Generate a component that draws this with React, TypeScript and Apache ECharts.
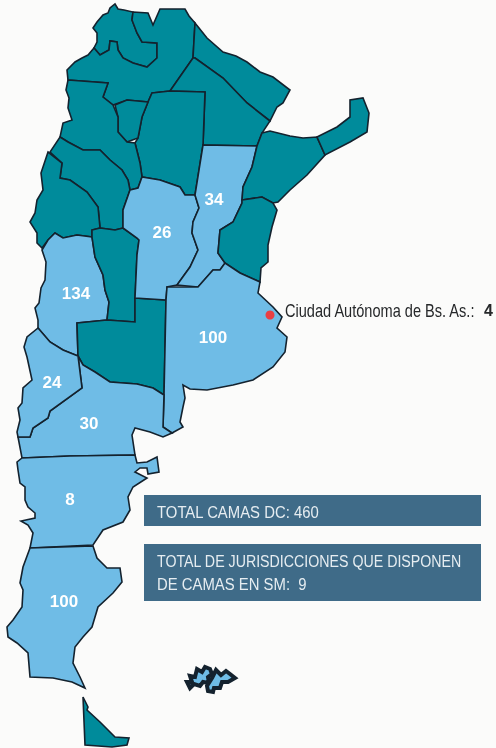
import React, { useEffect, useRef } from "react";
import * as echarts from "echarts";

type Pt = [number, number];

const jujuy: Pt[] = [[115,4],[118,9],[124,10],[133,12],[132,20],[137,33],[142,42],[157,43],[157,58],[147,67],[133,63],[123,58],[118,50],[117,42],[110,41],[109,50],[100,55],[94,48],[97,42],[97,33],[93,28],[97,22],[103,15],[108,13],[110,8]];
const salta: Pt[] = [[133,12],[148,13],[153,25],[160,9],[185,9],[189,16],[195,23],[193,58],[170,91],[152,93],[148,102],[127,100],[113,105],[103,97],[108,83],[68,80],[67,70],[75,62],[82,58],[88,55],[94,48],[100,55],[109,50],[110,41],[117,42],[118,50],[123,58],[133,63],[147,67],[157,58],[157,43],[142,42],[137,33],[132,20]];
const formosa: Pt[] = [[195,23],[207,38],[223,52],[236,56],[247,62],[260,72],[273,77],[290,90],[283,103],[277,107],[270,121],[247,103],[223,78],[195,58],[193,58]];
const chaco: Pt[] = [[195,58],[223,78],[247,103],[270,121],[262,133],[257,146],[203,145],[205,92],[170,91],[193,58]];
const santiago: Pt[] = [[152,93],[170,91],[205,92],[203,145],[195,195],[185,195],[180,187],[160,180],[142,177],[140,163],[135,143],[138,138],[142,117],[148,102]];
const tucuman: Pt[] = [[115,105],[127,100],[148,102],[142,117],[138,138],[127,142],[118,132],[118,117]];
const catamarca: Pt[] = [[68,80],[108,83],[103,97],[113,105],[118,117],[118,132],[127,142],[135,143],[140,163],[142,177],[138,188],[130,190],[128,180],[122,170],[110,160],[100,150],[83,150],[68,142],[60,137],[63,123],[72,120],[68,108],[69,98],[66,90]];
const laRioja: Pt[] = [[60,137],[68,142],[83,150],[100,150],[110,160],[122,170],[128,180],[130,190],[123,210],[123,228],[115,230],[100,228],[98,207],[87,192],[70,180],[60,178],[62,163],[50,152]];
const sanJuan: Pt[] = [[48,152],[62,163],[60,178],[70,180],[87,192],[98,207],[100,228],[92,230],[92,237],[77,235],[63,238],[55,233],[48,240],[42,248],[37,243],[37,233],[30,222],[35,213],[37,200],[43,190],[41,173],[43,167]];
const mendoza: Pt[] = [[42,250],[48,240],[55,233],[63,238],[77,235],[92,237],[95,257],[103,275],[105,290],[109,302],[107,320],[77,323],[78,356],[63,350],[50,342],[38,328],[38,320],[35,308],[39,303],[41,288],[45,280],[46,262]];
const sanLuis: Pt[] = [[92,230],[100,228],[115,230],[123,228],[137,238],[139,240],[137,255],[135,298],[135,322],[107,320],[109,302],[105,290],[103,275],[95,257],[92,237]];
const laPampa: Pt[] = [[77,323],[107,320],[135,322],[135,298],[166,300],[164,395],[153,388],[137,384],[110,382],[95,372],[83,365],[78,356]];
const cordoba: Pt[] = [[130,190],[138,188],[142,177],[160,180],[180,187],[185,195],[195,195],[199,208],[193,222],[192,233],[198,250],[190,267],[177,285],[167,287],[166,300],[135,298],[137,255],[139,240],[137,238],[123,228],[123,210]];
const santaFe: Pt[] = [[203,145],[257,146],[252,167],[243,187],[242,203],[233,222],[220,230],[218,253],[225,263],[220,270],[213,270],[198,287],[177,285],[190,267],[198,250],[192,233],[193,222],[199,208],[195,195]];
const corrientes: Pt[] = [[262,133],[270,131],[290,136],[303,138],[317,137],[325,155],[307,175],[290,190],[278,202],[273,203],[262,197],[242,200],[243,187],[252,167],[257,146]];
const misiones: Pt[] = [[317,137],[337,127],[350,117],[350,100],[363,98],[369,113],[367,132],[350,142],[325,155]];
const entreRios: Pt[] = [[242,200],[262,197],[273,203],[277,210],[272,227],[268,245],[268,262],[261,268],[260,282],[240,273],[225,263],[218,253],[220,230],[233,222],[242,203]];
const buenosAires: Pt[] = [[167,287],[198,287],[213,270],[220,270],[225,263],[240,273],[260,282],[258,293],[273,307],[282,317],[277,328],[287,337],[285,352],[273,367],[253,380],[233,385],[207,390],[190,389],[183,385],[185,398],[183,407],[180,422],[183,427],[172,433],[163,427],[164,395],[166,300]];
const rioNegro: Pt[] = [[78,356],[83,365],[95,372],[110,382],[137,384],[153,388],[164,395],[163,427],[172,433],[163,437],[150,432],[135,428],[132,435],[135,455],[70,456],[22,458],[18,437],[30,437],[33,428],[48,418],[50,411],[82,388]];
const neuquen: Pt[] = [[38,328],[50,342],[63,350],[78,356],[82,388],[50,411],[48,418],[33,428],[30,437],[18,437],[17,432],[20,420],[18,408],[22,403],[23,388],[32,380],[27,357],[24,347],[27,337]];
const chubut: Pt[] = [[17,462],[22,458],[70,456],[135,455],[137,463],[147,462],[157,457],[159,472],[148,474],[147,468],[140,468],[135,472],[147,478],[133,487],[128,497],[130,510],[123,522],[103,530],[93,545],[30,548],[33,533],[28,525],[21,521],[35,518],[35,513],[28,507],[25,500],[25,487],[20,483],[18,470]];
const santaCruz: Pt[] = [[30,548],[93,546],[97,558],[107,568],[120,568],[122,582],[113,593],[98,607],[92,627],[83,637],[75,647],[73,663],[80,677],[85,688],[72,682],[53,678],[30,677],[28,653],[17,643],[8,637],[7,627],[13,620],[22,607],[23,590],[20,583],[23,567]];
const tierraDelFuego: Pt[] = [[83,697],[88,707],[87,710],[100,722],[115,737],[129,738],[127,745],[112,747],[85,745]];
const malvinasOeste: Pt[] = [[187,682],[192,682],[190,676],[195,677],[197,669],[202,672],[205,667],[210,669],[212,674],[208,677],[209,683],[203,682],[200,686],[194,684],[190,688]];
const malvinasEste: Pt[] = [[212,678],[216,670],[221,675],[226,671],[230,674],[235,678],[228,682],[222,682],[220,688],[214,688],[213,692],[208,691],[207,686]];

const rings: [string, Pt[]][] = [
  ["Jujuy", jujuy], ["Salta", salta], ["Formosa", formosa], ["Chaco", chaco],
  ["Santiago del Estero", santiago], ["Tucumán", tucuman], ["Catamarca", catamarca],
  ["La Rioja", laRioja], ["San Juan", sanJuan], ["Mendoza", mendoza], ["San Luis", sanLuis],
  ["La Pampa", laPampa], ["Córdoba", cordoba], ["Santa Fe", santaFe], ["Corrientes", corrientes],
  ["Misiones", misiones], ["Entre Ríos", entreRios], ["Buenos Aires", buenosAires],
  ["Río Negro", rioNegro], ["Neuquén", neuquen], ["Chubut", chubut], ["Santa Cruz", santaCruz],
  ["Tierra del Fuego", tierraDelFuego], ["Malvinas Oeste", malvinasOeste], ["Malvinas Este", malvinasEste],
];

const bedProvinces = ["Mendoza", "Neuquén", "Río Negro", "Chubut", "Santa Cruz", "Buenos Aires", "Córdoba", "Santa Fe"];
const bedValues = [134, 24, 30, 8, 100, 100, 26, 34];
const labelAnchors: Pt[] = [[76,293],[52,382],[89,423],[70,499],[64,601],[213,337],[162,232],[214,199]];
const cabaPoint: Pt = [270, 315];
const cabaName = "Ciudad Autónoma de Bs. As.:";
const cabaValue = 4;
const lightProvinces = [...bedProvinces, "Malvinas Oeste", "Malvinas Este"];
const boxTexts = ["TOTAL CAMAS DC: 460", "TOTAL DE JURISDICCIONES QUE DISPONEN", "DE CAMAS EN SM:  9"];
const boxTextScale = [0.875, 0.836, 0.875];

const TEAL = "#008b9b";
const LIGHT = "#6fbce6";
const BORDER = "#14222e";
const BOX = "#3f6b88";
const BOXTEXT = "#e6edf1";
const SANS = '"Liberation Sans", Arial, sans-serif';

export default function App() {
  const ref = useRef<HTMLDivElement>(null);
  useEffect(() => {
    document.body.style.margin = "0";
    const geoJson = {
      type: "FeatureCollection",
      features: rings.map(([name, ring]) => ({
        type: "Feature",
        properties: { name },
        geometry: { type: "Polygon", coordinates: [[...ring, ring[0]]] },
      })),
    };
    echarts.registerMap("argentina", geoJson as any);
    const chart = echarts.init(ref.current!, null, { renderer: "svg" });
    const identity = { project: (c: number[]) => c, unproject: (c: number[]) => c };
    chart.setOption({
      animation: false,
      backgroundColor: "#fbfbfa",
      geo: {
        map: "argentina",
        projection: identity,
        boundingCoords: [[0, 0], [496, 748]],
        left: 0,
        top: 0,
        width: 496,
        height: 748,
        roam: false,
        silent: true,
        label: { show: false },
        itemStyle: { areaColor: TEAL, borderColor: BORDER, borderWidth: 1.5 },
        regions: rings.map(([name]) => ({
          name,
          itemStyle: {
            areaColor: lightProvinces.includes(name) ? LIGHT : TEAL,
            borderColor: BORDER,
            borderWidth: name.startsWith("Malvinas") ? 4 : 1.6,
          },
        })),
      },
      series: [
        {
          type: "scatter",
          coordinateSystem: "geo",
          symbolSize: 1,
          silent: true,
          itemStyle: { color: "rgba(0,0,0,0)", opacity: 1 },
          data: bedValues.map((v, i) => ({ name: bedProvinces[i], value: [labelAnchors[i][0], labelAnchors[i][1], v] })),
          label: {
            show: true,
            position: "inside",
            formatter: (p: any) => String(p.value[2]),
            color: "#ffffff",
            fontFamily: SANS,
            fontWeight: "bold",
            fontSize: 17,
          },
        },
        {
          type: "scatter",
          coordinateSystem: "geo",
          symbolSize: 9,
          silent: true,
          itemStyle: { color: "#ea3f43", opacity: 1 },
          data: [{ name: cabaName, value: cabaPoint }],
        },
      ],
      graphic: [
        { type: "rect", shape: { x: 144, y: 495, width: 337, height: 31 }, style: { fill: BOX }, silent: true },
        { type: "rect", shape: { x: 144, y: 544, width: 337, height: 57 }, style: { fill: BOX }, silent: true },
        ...[512, 561, 584].map((y, i) => ({
          type: "text",
          x: 157,
          y,
          scaleX: boxTextScale[i],
          silent: true,
          style: {
            text: boxTexts[i],
            fontFamily: SANS,
            fontSize: 17,
            fill: BOXTEXT,
            verticalAlign: "middle",
            align: "left",
          },
        })),
        {
          type: "text",
          x: 285,
          y: 310,
          scaleX: 0.81,
          silent: true,
          style: { text: cabaName, fontFamily: SANS, fontSize: 18, fill: "#26282a", verticalAlign: "middle", align: "left" },
        },
        {
          type: "text",
          x: 484,
          y: 310,
          silent: true,
          style: { text: String(cabaValue), fontFamily: SANS, fontWeight: "bold", fontSize: 16, fill: "#26282a", verticalAlign: "middle", align: "left" },
        },
      ],
    });
    return () => chart.dispose();
  }, []);
  return <div ref={ref} style={{ width: 496, height: 748, filter: "blur(0.4px)" }} />;
}
